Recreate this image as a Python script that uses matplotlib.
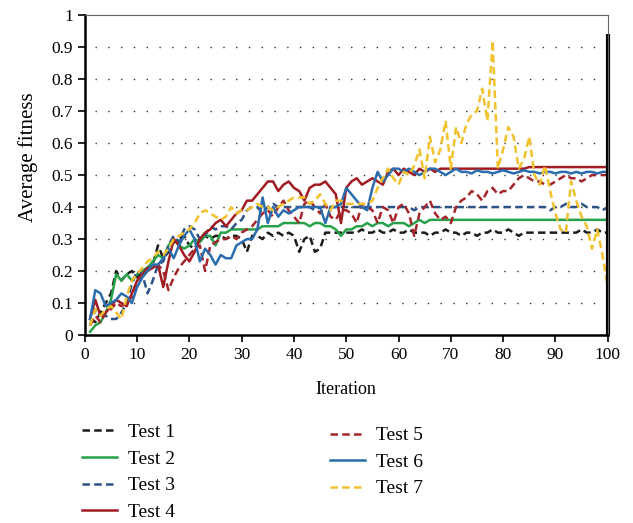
import numpy as np
import matplotlib.pyplot as plt

plt.rcParams['font.family'] = ['Liberation Serif', 'DejaVu Serif']
plt.rcParams['font.size'] = 12

iteration = np.arange(1, 101)

test1 = [0.05, 0.04, 0.07, 0.10, 0.13, 0.20, 0.17, 0.19, 0.20, 0.18,
         0.20, 0.21, 0.22, 0.28, 0.24, 0.26, 0.29, 0.30, 0.31, 0.28,
         0.27, 0.30, 0.31, 0.30, 0.31, 0.31, 0.30, 0.31, 0.31, 0.30,
         0.26, 0.31, 0.31, 0.30, 0.32, 0.31, 0.32, 0.31, 0.32, 0.31,
         0.26, 0.30, 0.31, 0.26, 0.27, 0.32, 0.32, 0.32, 0.32, 0.32,
         0.32, 0.32, 0.33, 0.32, 0.32, 0.33, 0.32, 0.32, 0.33, 0.32,
         0.32, 0.33, 0.32, 0.32, 0.32, 0.31, 0.32, 0.32, 0.33, 0.32,
         0.32, 0.31, 0.32, 0.32, 0.31, 0.32, 0.32, 0.33, 0.32, 0.32,
         0.33, 0.32, 0.31, 0.32, 0.32, 0.32, 0.32, 0.32, 0.32, 0.32,
         0.32, 0.32, 0.32, 0.32, 0.33, 0.32, 0.32, 0.33, 0.32, 0.32]

test2 = [0.01, 0.03, 0.04, 0.07, 0.11, 0.19, 0.17, 0.19, 0.17, 0.19,
         0.20, 0.21, 0.23, 0.25, 0.24, 0.28, 0.30, 0.28, 0.27, 0.28,
         0.30, 0.29, 0.31, 0.31, 0.28, 0.32, 0.32, 0.33, 0.33, 0.33,
         0.33, 0.33, 0.33, 0.34, 0.34, 0.34, 0.34, 0.35, 0.35, 0.35,
         0.35, 0.35, 0.34, 0.35, 0.35, 0.34, 0.34, 0.33, 0.31, 0.33,
         0.33, 0.34, 0.34, 0.35, 0.34, 0.35, 0.35, 0.34, 0.35, 0.35,
         0.35, 0.34, 0.35, 0.36, 0.35, 0.36, 0.36, 0.36, 0.36, 0.36,
         0.36, 0.36, 0.36, 0.36, 0.36, 0.36, 0.36, 0.36, 0.36, 0.36,
         0.36, 0.36, 0.36, 0.36, 0.36, 0.36, 0.36, 0.36, 0.36, 0.36,
         0.36, 0.36, 0.36, 0.36, 0.36, 0.36, 0.36, 0.36, 0.36, 0.36]

test3 = [0.03, 0.08, 0.07, 0.06, 0.05, 0.05, 0.07, 0.10, 0.16, 0.20,
         0.19, 0.13, 0.17, 0.22, 0.23, 0.28, 0.31, 0.29, 0.33, 0.34,
         0.33, 0.30, 0.31, 0.34, 0.33, 0.34, 0.34, 0.33, 0.35, 0.36,
         0.39, 0.40, 0.40, 0.38, 0.40, 0.41, 0.40, 0.40, 0.40, 0.40,
         0.40, 0.40, 0.40, 0.39, 0.40, 0.40, 0.40, 0.40, 0.40, 0.40,
         0.40, 0.40, 0.40, 0.40, 0.40, 0.40, 0.40, 0.40, 0.40, 0.40,
         0.40, 0.40, 0.39, 0.40, 0.40, 0.40, 0.40, 0.40, 0.40, 0.40,
         0.40, 0.40, 0.40, 0.40, 0.40, 0.40, 0.40, 0.40, 0.40, 0.40,
         0.40, 0.40, 0.40, 0.40, 0.40, 0.40, 0.40, 0.40, 0.39, 0.40,
         0.40, 0.41, 0.40, 0.40, 0.41, 0.40, 0.40, 0.40, 0.39, 0.40]

test4 = [0.05, 0.11, 0.06, 0.07, 0.09, 0.11, 0.10, 0.09, 0.13, 0.17,
         0.19, 0.21, 0.21, 0.22, 0.15, 0.23, 0.30, 0.28, 0.25, 0.23,
         0.26, 0.30, 0.32, 0.33, 0.35, 0.36, 0.34, 0.36, 0.38, 0.39,
         0.42, 0.42, 0.44, 0.46, 0.48, 0.48, 0.45, 0.47, 0.48, 0.46,
         0.45, 0.42, 0.46, 0.47, 0.47, 0.48, 0.46, 0.44, 0.35, 0.46,
         0.48, 0.49, 0.47, 0.48, 0.49, 0.48, 0.47, 0.51, 0.52, 0.50,
         0.52, 0.51, 0.50, 0.52, 0.51, 0.52, 0.51, 0.52, 0.52, 0.52,
         0.52, 0.52, 0.52, 0.52, 0.52, 0.52, 0.52, 0.52, 0.52, 0.52,
         0.52, 0.52, 0.52, 0.52, 0.525, 0.525, 0.525, 0.525, 0.525, 0.525,
         0.525, 0.525, 0.525, 0.525, 0.525, 0.525, 0.525, 0.525, 0.525, 0.525]

test5 = [0.03, 0.06, 0.04, 0.07, 0.08, 0.10, 0.09, 0.10, 0.12, 0.16,
         0.19, 0.20, 0.21, 0.22, 0.20, 0.14, 0.18, 0.21, 0.23, 0.25,
         0.27, 0.28, 0.20, 0.28, 0.29, 0.30, 0.30, 0.31, 0.30, 0.32,
         0.33, 0.34, 0.36, 0.38, 0.39, 0.37, 0.40, 0.42, 0.39, 0.37,
         0.35, 0.41, 0.42, 0.40, 0.38, 0.41, 0.37, 0.36, 0.39, 0.39,
         0.38, 0.35, 0.41, 0.40, 0.39, 0.35, 0.40, 0.39, 0.35, 0.40,
         0.41, 0.38, 0.31, 0.38, 0.40, 0.42, 0.38, 0.36, 0.37, 0.35,
         0.40, 0.42, 0.43, 0.45, 0.44, 0.42, 0.45, 0.46, 0.44, 0.45,
         0.45, 0.47, 0.49, 0.50, 0.49, 0.48, 0.48, 0.47, 0.47, 0.48,
         0.49, 0.50, 0.49, 0.49, 0.48, 0.49, 0.50, 0.50, 0.50, 0.50]

test6 = [0.05, 0.14, 0.13, 0.09, 0.10, 0.11, 0.13, 0.12, 0.10, 0.15,
         0.18, 0.20, 0.22, 0.22, 0.24, 0.27, 0.24, 0.28, 0.31, 0.33,
         0.30, 0.23, 0.27, 0.25, 0.22, 0.25, 0.24, 0.24, 0.28, 0.29,
         0.30, 0.30, 0.33, 0.43, 0.35, 0.40, 0.37, 0.39, 0.38, 0.39,
         0.40, 0.40, 0.40, 0.40, 0.40, 0.35, 0.40, 0.40, 0.41, 0.46,
         0.44, 0.42, 0.40, 0.39, 0.46, 0.51, 0.48, 0.50, 0.52, 0.52,
         0.51, 0.52, 0.51, 0.50, 0.51, 0.52, 0.52, 0.51, 0.50, 0.51,
         0.52, 0.51, 0.51, 0.505, 0.515, 0.51, 0.51, 0.505, 0.51, 0.515,
         0.51, 0.505, 0.51, 0.515, 0.51, 0.51, 0.505, 0.51, 0.51, 0.505,
         0.51, 0.51, 0.505, 0.51, 0.505, 0.51, 0.51, 0.505, 0.51, 0.51]

test7 = [0.03, 0.08, 0.06, 0.08, 0.09, 0.07, 0.05, 0.12, 0.17, 0.19,
         0.21, 0.23, 0.24, 0.26, 0.25, 0.27, 0.30, 0.31, 0.32, 0.33,
         0.35, 0.38, 0.39, 0.38, 0.37, 0.36, 0.37, 0.40, 0.38, 0.39,
         0.39, 0.40, 0.41, 0.40, 0.40, 0.39, 0.40, 0.41, 0.42, 0.43,
         0.43, 0.43, 0.41, 0.42, 0.44, 0.41, 0.39, 0.42, 0.42, 0.41,
         0.41, 0.41, 0.41, 0.41, 0.42, 0.46, 0.49, 0.52, 0.49, 0.47,
         0.51, 0.50, 0.53, 0.58, 0.49, 0.62, 0.54, 0.58, 0.67, 0.52,
         0.65, 0.60, 0.66, 0.69, 0.70, 0.77, 0.67, 0.92, 0.52, 0.58,
         0.65, 0.62, 0.52, 0.55, 0.62, 0.50, 0.47, 0.53, 0.45, 0.38,
         0.33, 0.32, 0.48, 0.42, 0.37, 0.34, 0.27, 0.33, 0.25, 0.15]

labels = ['Test 1', 'Test 2', 'Test 3', 'Test 4', 'Test 5', 'Test 6', 'Test 7']
series = [test1, test2, test3, test4, test5, test6, test7]
colors = ['#1c1c1c', '#27a24a', '#2d5285', '#a11c22', '#a3262b', '#2b6cae', '#f2c12e']
dashed = [True, False, True, False, True, False, True]

fig = plt.figure(figsize=(6.33, 5.23), dpi=100)
ax = fig.add_axes([0.134, 0.3595, 0.826, 0.6115])

lines = []
for vals, lab, c, d in zip(series, labels, colors, dashed):
    ln, = ax.plot(iteration, vals, color=c, lw=1.8, label=lab)
    if d:
        ln.set_dashes((3, 1.7))
    lines.append(ln)

# heavy black line down the right edge
ax.plot([100, 100], [0, 0.94], color='black', lw=3, solid_capstyle='butt', clip_on=False)

ax.set_xlim(0, 100)
ax.set_ylim(0, 1)
ax.set_xticks(np.arange(0, 101, 10))
ax.set_yticks(np.arange(0, 1.01, 0.1))
ax.set_yticklabels(['0', '0.1', '0.2', '0.3', '0.4', '0.5', '0.6', '0.7', '0.8', '0.9', '1'])
ax.tick_params(direction='out', length=5, width=1.2, labelsize=12.5, color='black')

for y in np.arange(0.1, 0.95, 0.1):
    ax.axhline(y, xmin=0.02, xmax=0.99, color='#333333', lw=1.0,
               linestyle=(0, (1, 8.2)), zorder=0)

ax.spines['left'].set_linewidth(1.8)
ax.spines['bottom'].set_linewidth(1.8)
ax.spines['top'].set_color('#666666')
ax.spines['right'].set_color('#666666')

ax.set_xlabel('Iteration', fontsize=13, labelpad=13)
ax.set_ylabel('Average fitness', fontsize=15)
ax.yaxis.set_label_coords(-0.09, 0.556)

leg_kw = dict(frameon=False, fontsize=14, handlelength=1.8, handletextpad=0.57,
              labelspacing=0.46, borderpad=0, borderaxespad=0)
leg1 = fig.legend(handles=lines[:4], loc='upper left',
                  bbox_to_anchor=(0.129, 0.190), **leg_kw)
leg2 = fig.legend(handles=lines[4:], loc='upper left',
                  bbox_to_anchor=(0.521, 0.184), **leg_kw)

fig.savefig('out.png', dpi=100)
